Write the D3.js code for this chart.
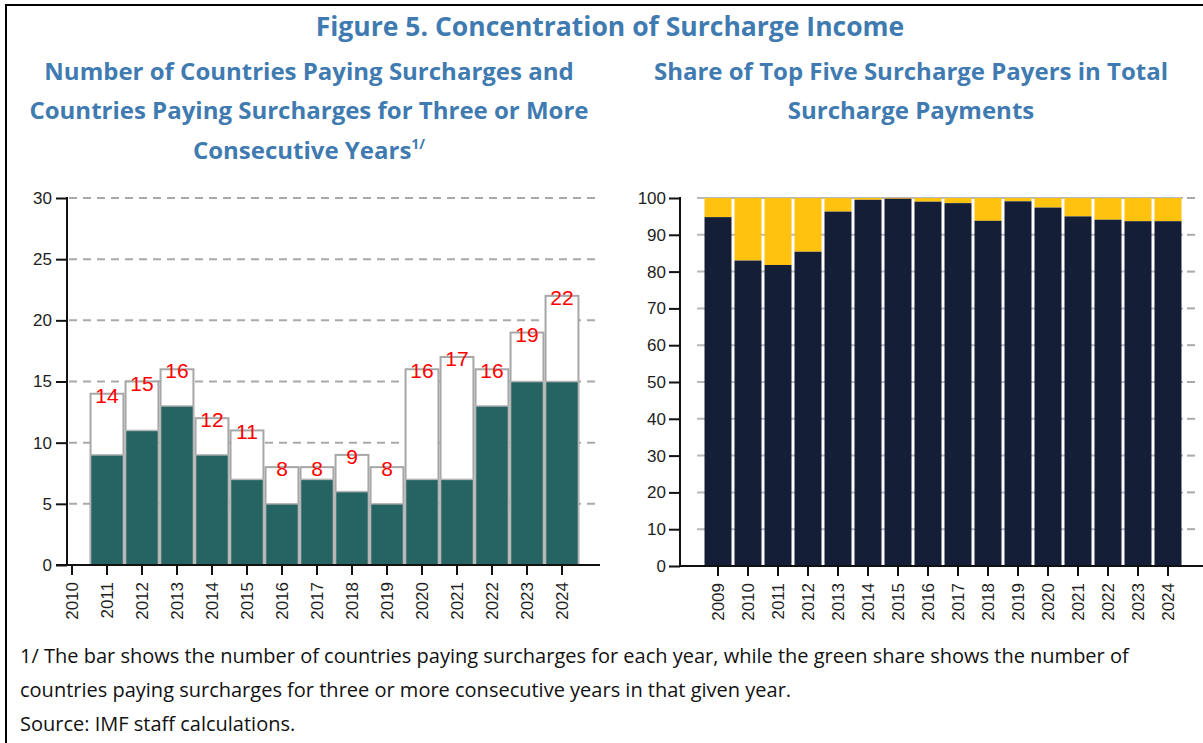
<!DOCTYPE html>
<html>
<head>
<meta charset="utf-8">
<script src="https://cdn.jsdelivr.net/npm/d3@7"></script>
<style>
  html, body { margin: 0; padding: 0; background: #fff; }
  svg { display: block; }
  .title { font-family: "Open Sans", "Noto Sans", sans-serif; font-weight: 700; fill: #3f7bb1; }
  .tick text { font-family: "Liberation Sans", Arial, sans-serif; fill: #1e1e1e; }
  .note { font-family: "Open Sans", "Noto Sans", sans-serif; fill: #111; }
</style>
</head>
<body>
<svg id="fig" width="1203" height="743"></svg>
<script>
// Left panel: countries paying surcharges (total) and those paying 3+ consecutive years
const leftYears = [2010, 2011, 2012, 2013, 2014, 2015, 2016, 2017, 2018, 2019, 2020, 2021, 2022, 2023, 2024];
const barYears = [2011, 2012, 2013, 2014, 2015, 2016, 2017, 2018, 2019, 2020, 2021, 2022, 2023, 2024];
const totalCountries = [14, 15, 16, 12, 11, 8, 8, 9, 8, 16, 17, 16, 19, 22];
const consecutiveCountries = [9, 11, 13, 9, 7, 5, 7, 6, 5, 7, 7, 13, 15, 15];
const leftTicks = [0, 5, 10, 15, 20, 25, 30];

// Right panel: share of top five payers in total surcharge payments (percent)
const rightYears = [2009, 2010, 2011, 2012, 2013, 2014, 2015, 2016, 2017, 2018, 2019, 2020, 2021, 2022, 2023, 2024];
const topFiveShare = [94.8, 83.0, 81.8, 85.4, 96.3, 99.5, 99.8, 99.0, 98.6, 93.8, 99.1, 97.4, 95.0, 94.1, 93.7, 93.7];
const rightTicks = [0, 10, 20, 30, 40, 50, 60, 70, 80, 90, 100];

const svg = d3.select("#fig");

// Frame (left and top rules)
svg.append("line").attr("x1", 6).attr("x2", 6).attr("y1", 4).attr("y2", 743)
  .attr("stroke", "#000").attr("stroke-width", 2);
svg.append("line").attr("x1", 5).attr("x2", 1203).attr("y1", 5).attr("y2", 5)
  .attr("stroke", "#000").attr("stroke-width", 2);

// Titles
svg.append("text").attr("class", "title").attr("x", 610).attr("y", 36)
  .attr("text-anchor", "middle").style("font-size", "26.5px")
  .text("Figure 5. Concentration of Surcharge Income");

const leftTitle = svg.append("text").attr("class", "title").attr("text-anchor", "middle")
  .style("font-size", "24px");
leftTitle.append("tspan").attr("x", 309).attr("y", 80).text("Number of Countries Paying Surcharges and");
leftTitle.append("tspan").attr("x", 309).attr("y", 119).text("Countries Paying Surcharges for Three or More");
const l3 = leftTitle.append("tspan").attr("x", 309).attr("y", 159);
l3.append("tspan").text("Consecutive Years");
l3.append("tspan").attr("dy", -10).style("font-size", "14px").text("1/");

const rightTitle = svg.append("text").attr("class", "title").attr("text-anchor", "middle")
  .style("font-size", "24px");
rightTitle.append("tspan").attr("x", 911).attr("y", 80).text("Share of Top Five Surcharge Payers in Total");
rightTitle.append("tspan").attr("x", 911).attr("y", 119).text("Surcharge Payments");

// ---------- Left chart ----------
const xL = d3.scaleBand().domain(leftYears).range([54.5, 579.5]).paddingInner(0.06).paddingOuter(0.03);
const yL = d3.scaleLinear().domain([0, 30]).range([565, 198]);

const gL = svg.append("g");

// dashed gridlines
gL.selectAll("line.grid").data(leftTicks.filter(d => d > 0)).join("line")
  .attr("class", "grid")
  .attr("x1", 69).attr("x2", 598)
  .attr("y1", d => yL(d)).attr("y2", d => yL(d))
  .attr("stroke", "#a9a9a9").attr("stroke-width", 2)
  .attr("stroke-dasharray", "8,6");

const leftRows = barYears.map((yr, i) => ({ yr, total: totalCountries[i], cons: consecutiveCountries[i] }));

// total bars (outline)
gL.selectAll("rect.total").data(leftRows).join("rect")
  .attr("class", "total")
  .attr("x", d => xL(d.yr)).attr("width", xL.bandwidth())
  .attr("y", d => yL(d.total)).attr("height", d => yL(0) - yL(d.total))
  .attr("fill", "#fff").attr("stroke", "#a7a7a7").attr("stroke-width", 2);

// consecutive-years share
gL.selectAll("rect.cons").data(leftRows).join("rect")
  .attr("class", "cons")
  .attr("x", d => xL(d.yr)).attr("width", xL.bandwidth())
  .attr("y", d => yL(d.cons)).attr("height", d => yL(0) - yL(d.cons))
  .attr("fill", "#266464").attr("stroke", "#b4b4b4").attr("stroke-width", 1.5);

// value labels
gL.selectAll("text.val").data(leftRows).join("text")
  .attr("class", "val")
  .attr("x", d => xL(d.yr) + xL.bandwidth() / 2)
  .attr("y", d => yL(d.total) + 9)
  .attr("text-anchor", "middle")
  .style("font-family", "'Liberation Sans', Arial, sans-serif")
  .style("font-size", "21px")
  .attr("fill", "#ff0000")
  .text(d => d.total);

// y axis
const yAxisL = gL.append("g").attr("transform", "translate(67,0)")
  .call(d3.axisLeft(yL).tickValues(leftTicks).tickSize(11).tickPadding(4));
yAxisL.select(".domain").remove();
yAxisL.selectAll(".tick line").attr("stroke", "#111").attr("stroke-width", 2);
yAxisL.selectAll(".tick text").style("font-size", "17px");
gL.append("line").attr("x1", 67).attr("x2", 67).attr("y1", yL(30) - 1).attr("y2", yL(0) + 1)
  .attr("stroke", "#111").attr("stroke-width", 2);

// x axis
const xAxisL = gL.append("g").attr("transform", "translate(0,565)")
  .call(d3.axisBottom(xL).tickSize(10).tickPadding(0));
xAxisL.select(".domain").remove();
xAxisL.selectAll(".tick line").attr("stroke", "#111").attr("stroke-width", 2);
xAxisL.selectAll(".tick text")
  .style("font-size", "17px")
  .attr("transform", "rotate(-90)")
  .attr("text-anchor", "end")
  .attr("x", -17).attr("y", 0).attr("dy", "0.35em");
gL.append("line").attr("x1", 56).attr("x2", 600).attr("y1", 565).attr("y2", 565)
  .attr("stroke", "#111").attr("stroke-width", 2);

// ---------- Right chart ----------
const xR = d3.scaleBand().domain(rightYears).range([703, 1183]).paddingInner(0.1).paddingOuter(0.05);
const yR = d3.scaleLinear().domain([0, 100]).range([566, 198]);

const gR = svg.append("g");

// gridlines behind the bars
gR.selectAll("line.grid").data(rightTicks.filter(d => d > 0)).join("line")
  .attr("class", "grid")
  .attr("x1", 697).attr("x2", 1183)
  .attr("y1", d => yR(d)).attr("y2", d => yR(d))
  .attr("stroke", "#b9b9b9").attr("stroke-width", 2);
// short right-hand tick marks
gR.selectAll("line.rt").data(rightTicks.filter(d => d > 0)).join("line")
  .attr("class", "rt")
  .attr("x1", 1187).attr("x2", 1195)
  .attr("y1", d => yR(d)).attr("y2", d => yR(d))
  .attr("stroke", "#a9a9a9").attr("stroke-width", 2);

const rightRows = rightYears.map((yr, i) => ({ yr, share: topFiveShare[i] }));

// remainder (top five share to 100)
gR.selectAll("rect.rest").data(rightRows).join("rect")
  .attr("class", "rest")
  .attr("x", d => xR(d.yr)).attr("width", xR.bandwidth())
  .attr("y", yR(100)).attr("height", d => yR(d.share) - yR(100))
  .attr("fill", "#ffc20e");

// top five share
gR.selectAll("rect.top5").data(rightRows).join("rect")
  .attr("class", "top5")
  .attr("x", d => xR(d.yr)).attr("width", xR.bandwidth())
  .attr("y", d => yR(d.share)).attr("height", d => yR(0) - yR(d.share))
  .attr("fill", "#141f37");

// y axis
const yAxisR = gR.append("g").attr("transform", "translate(680,0)")
  .call(d3.axisLeft(yR).tickValues(rightTicks).tickSize(11).tickPadding(3));
yAxisR.select(".domain").remove();
yAxisR.selectAll(".tick line").attr("stroke", "#111").attr("stroke-width", 2);
yAxisR.selectAll(".tick text").style("font-size", "17px");
gR.append("line").attr("x1", 680).attr("x2", 680).attr("y1", yR(100) - 1).attr("y2", yR(0) + 1)
  .attr("stroke", "#111").attr("stroke-width", 2);

// x axis
const xAxisR = gR.append("g").attr("transform", "translate(0,566)")
  .call(d3.axisBottom(xR).tickSize(10).tickPadding(0));
xAxisR.select(".domain").remove();
xAxisR.selectAll(".tick line").attr("stroke", "#111").attr("stroke-width", 2);
xAxisR.selectAll(".tick text")
  .style("font-size", "17px")
  .attr("transform", "rotate(-90)")
  .attr("text-anchor", "end")
  .attr("x", -17).attr("y", 0).attr("dy", "0.35em");
gR.append("line").attr("x1", 679).attr("x2", 1203).attr("y1", 566).attr("y2", 566)
  .attr("stroke", "#111").attr("stroke-width", 2);

// ---------- Notes ----------
const notes = [
  "1/ The bar shows the number of countries paying surcharges for each year, while the green share shows the number of",
  "countries paying surcharges for three or more consecutive years in that given year.",
  "Source: IMF staff calculations."
];
svg.selectAll("text.note").data(notes).join("text")
  .attr("class", "note")
  .attr("x", 20).attr("y", (d, i) => 663 + i * 34)
  .style("font-size", "20px")
  .text(d => d);
</script>
</body>
</html>
